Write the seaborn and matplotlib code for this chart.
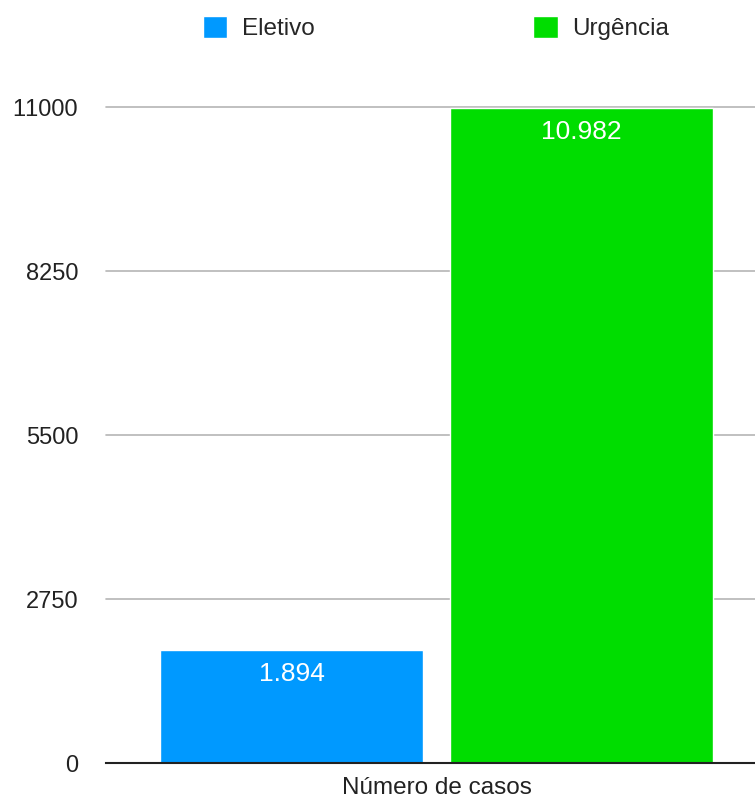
import pandas as pd
import matplotlib.pyplot as plt
import seaborn as sns

group = ["Número de casos", "Número de casos"]
kinds = ["Eletivo", "Urgência"]
cases = [1894, 10982]
y_ticks = [0, 2750, 5500, 8250, 11000]
colors = ["#0099ff", "#00dd00"]

df = pd.DataFrame({"grupo": group, "tipo": kinds, "casos": cases})

sns.set_theme(style="white")
plt.rcParams["font.family"] = ["Liberation Sans", "DejaVu Sans"]
plt.rcParams["text.kerning_factor"] = 6  # no tight "11" pair

fig = plt.figure(figsize=(7.55, 7.98), dpi=100)
ax = fig.add_axes([106 / 755, 35 / 798, 649 / 755, 656 / 798])

sns.barplot(data=df, x="grupo", y="casos", hue="tipo", palette=colors,
            width=0.8, gap=0.093, saturation=1, ax=ax)

ax.set_ylim(0, 11000)
ax.set_xlim(-0.456, 0.439)
ax.set_yticks(y_ticks)
ax.set_yticklabels([str(t) for t in y_ticks])
ax.yaxis.grid(True, color="#b5b5b5", linewidth=1.2)
ax.set_axisbelow(True)
for gl in ax.get_ygridlines():
    gl.set_clip_on(False)
ax.tick_params(axis="y", length=0, pad=20, labelsize=17, labelcolor="#222222")
ax.tick_params(axis="x", length=0, pad=10, labelsize=17.5, labelcolor="#222222")
ax.set_xlabel(None)
ax.set_ylabel(None)
sns.despine(ax=ax, left=True, top=True, right=True)
ax.spines["bottom"].set_color("#222222")
ax.spines["bottom"].set_linewidth(1.5)

for cont in ax.containers:
    vals = [f"{int(b.get_height()):,}".replace(",", ".") for b in cont]
    ax.bar_label(cont, labels=vals, padding=-26, color="white", fontsize=19)

sns.move_legend(ax, "center", bbox_to_anchor=(436 / 755, 1 - 28 / 798),
                bbox_transform=fig.transFigure, ncol=2, frameon=False, title=None,
                fontsize=17.5, handlelength=1.0, handleheight=1.0,
                handletextpad=0.6, columnspacing=9.0)

fig.savefig("out.png", dpi=100)
